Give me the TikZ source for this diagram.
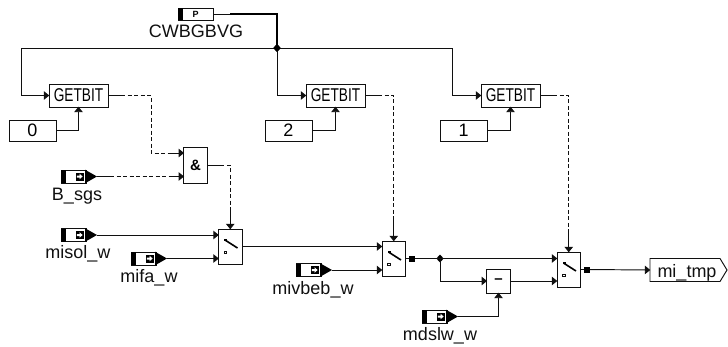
\documentclass[tikz,border=0pt]{standalone}
\usepackage{fontspec}
\setmainfont{Liberation Sans}
\usetikzlibrary{arrows.meta,shapes.geometric}
\definecolor{ink}{HTML}{101010}
\tikzset{
  wire/.style={draw=ink,line width=.95pt},
  sig/.style={wire,-{Triangle[length=5.5pt,width=8.5pt]},shorten >=-.3pt},
  dashwire/.style={wire,dash pattern=on 4pt off 2.5pt},
  buswire/.style={draw=black,line width=2.2pt},
  blockbox/.style={draw=ink,fill=white,line width=.95pt,inner sep=0pt,outer sep=0pt},
  getbit/.style={blockbox,minimum width=59pt,minimum height=23pt,font=\fontsize{18.5}{18.5}\selectfont},
  constbox/.style={blockbox,minimum width=47pt,minimum height=21pt,font=\fontsize{18}{18}\selectfont},
  opbox/.style={blockbox,minimum width=23.5pt,minimum height=35pt},
  lbl/.style={inner sep=0pt,outer sep=0pt,text=ink,anchor=base,font=\fontsize{18}{18}\selectfont},
  junction/.style={diamond,fill=black,inner sep=0pt,minimum width=7.5pt,minimum height=8pt},
  outmark/.style={rectangle,fill=black,inner sep=0pt,minimum size=6pt},
  portanchor/.style={inner sep=0pt,outer sep=0pt,minimum width=36pt,minimum height=13pt}
}
% input port: name, left x, centre y, label, label x, label baseline y
\newcommand{\inport}[6]{%
  \node[portanchor] (#1) at (#2+18,#3) {};
  \draw[ink,line width=.95pt,fill=white] (#2,#3-6.5) rectangle (#2+25,#3+6.5);
  \fill[black] (#2,#3-6.5) rectangle (#2+5,#3+6.5);
  \fill[black] (#2+24,#3-6.8) -- (#2+36,#3) -- (#2+24,#3+6.8) -- cycle;
  \fill[black] (#2+14.5,#3-4) rectangle (#2+22.5,#3+4);
  \fill[white] (#2+15.8,#3-1) -- (#2+18.5,#3-1) -- (#2+18.5,#3-2.8) -- (#2+21.6,#3) -- (#2+18.5,#3+2.8) -- (#2+18.5,#3+1) -- (#2+15.8,#3+1) -- cycle;
  \node[lbl] (#1-label) at (#5,#6) {#4};
}
% switch: name, left x, top y
\newcommand{\switchbox}[3]{%
  \node[opbox] (#1) at (#2+11.75,#3+17.5) {};
  \draw[black,line width=1.6pt] (#2+6.5,#3+11) -- (#2+19,#3+19);
  \fill[black] (#2+5.5,#3+9.8) rectangle (#2+8.5,#3+12.3);
  \draw[ink,line width=.9pt] (#2+5.5,#3+22.3) rectangle (#2+8,#3+24.8);
}
\begin{document}
\begin{tikzpicture}[x=1pt,y=-1pt]
\useasboundingbox (0,0) rectangle (728,346);

% --- parameter
\node[portanchor,minimum width=35pt,minimum height=12pt] (cw) at (195.5,14) {};
\draw[ink,line width=.95pt,fill=white] (178,8) rectangle (213,20);
\fill[black] (178,8) rectangle (183,20);
\node[inner sep=0pt,font=\bfseries\fontsize{9}{9}\selectfont] (cwp) at (195.5,14) {P};
\node[lbl] (cwl) at (196,37) {CWBGBVG};
\node[junction] (j1) at (277,48) {};
\coordinate (cwb) at (230,14);

% --- GETBIT blocks and constants
\node[getbit] (g1) at (78.5,95.5) {\scalebox{.74}[1]{GETBIT}};
\node[getbit] (g2) at (335.5,95.5) {\scalebox{.74}[1]{GETBIT}};
\node[getbit] (g3) at (510.5,95.5) {\scalebox{.74}[1]{GETBIT}};
\node[constbox] (c0) at (32.5,130.5) {0};
\node[constbox] (c2) at (288.5,130.5) {2};
\node[constbox] (c1) at (463.5,130.5) {1};
\coordinate (b1) at (21,48);
\coordinate (b3) at (452,48);

% --- logic and switches
\node[opbox,minimum height=36pt,font=\bfseries\fontsize{15}{15}\selectfont] (and) at (195.5,165) {\&};
\switchbox{sw1}{218.5}{229}
\switchbox{sw2}{382}{241}
\switchbox{sw3}{557}{252}
\node[blockbox,minimum width=23.5pt,minimum height=24pt,font=\bfseries\fontsize{15}{15}\selectfont] (minus) at (498.5,281) {–};

% --- inputs
\inport{bsgs}{61}{176.5}{B\_sgs}{77}{200}
\inport{misol}{61}{235}{misol\_w}{78}{258}
\inport{mifa}{131}{258.5}{mifa\_w}{149}{282}
\inport{mivbeb}{296}{270}{mivbeb\_w}{313}{294}
\inport{mdslw}{422}{316.5}{mdslw\_w}{440}{340}

% --- output
\node[inner sep=0pt,outer sep=0pt,minimum width=77pt,minimum height=23pt] (out) at (688.5,270) {};
\draw[ink,line width=.95pt] (out.north west) -- (720,258.5) -- (727,270) -- (720,281.5) -- (out.south west) -- cycle;
\node[lbl] (outl) at (687,277) {mi\_tmp};

% --- bus
\draw[wire] (cw.east) -- (cwb);
\draw[buswire] (cwb) -| (j1.center);
\draw[wire] (b1) -- (b3);
\draw[sig] (b1) |- (g1.west);
\draw[sig] (j1.center) |- (g2.west);
\draw[sig] (b3) |- (g3.west);
\draw[sig] (c0.east) -| (g1.south);
\draw[sig] (c2.east) -| (g2.south);
\draw[sig] (c1.east) -| (g3.south);
\node[junction] at (j1) {};

% --- dashed signals
\coordinate (d1) at (151,153);
\draw[dashwire] (g1.east) -| (d1) -- (d1 -| and.west);
\draw[wire] (g1.east) -- ++(17,0);
\draw[sig] ([xshift=-14pt]d1 -| and.west) -- (d1 -| and.west);
\coordinate (d2) at (184,176.5);
\draw[dashwire] (bsgs.east) -- (d2 -| and.west);
\draw[wire] (bsgs.east) -- ++(17,0);
\draw[sig] ([xshift=-14pt]d2 -| and.west) -- (d2 -| and.west);
\draw[dashwire] (and.east) -| (sw1.north);
\draw[wire] (and.east) -- ++(14,0);
\draw[sig] ([yshift=18pt]sw1.north) -- (sw1.north);
\draw[dashwire] (g2.east) -| (sw2.north);
\draw[wire] (g2.east) -- ++(17,0);
\draw[sig] ([yshift=23pt]sw2.north) -- (sw2.north);
\draw[dashwire] (g3.east) -| (sw3.north);
\draw[wire] (g3.east) -- ++(17,0);
\draw[sig] ([yshift=23pt]sw3.north) -- (sw3.north);

% --- data signals
\draw[sig] (misol.east) -- (misol.east -| sw1.west);
\draw[sig] (mifa.east) -- (mifa.east -| sw1.west);
\draw[sig] (sw1.east) -- (sw1.east -| sw2.west);
\draw[sig] (mivbeb.east) -- (mivbeb.east -| sw2.west);
\node[outmark] (m2) at (412,258.5) {};
\node[junction] (j2) at (440,258.5) {};
\draw[wire] (sw2.east) -- (m2);
\draw[wire] (m2) -- (j2.center);
\draw[sig] (j2.center) -- (j2.center -| sw3.west);
\draw[sig] (j2.center) |- (minus.west);
\draw[sig] (minus.east) -- (minus.east -| sw3.west);
\draw[sig] (mdslw.east) -| (minus.south);
\node[outmark] (m3) at (587,269.5) {};
\draw[wire] (sw3.east) -- (m3);
\draw[sig] (m3) -- (out.west);
\end{tikzpicture}
\end{document}
